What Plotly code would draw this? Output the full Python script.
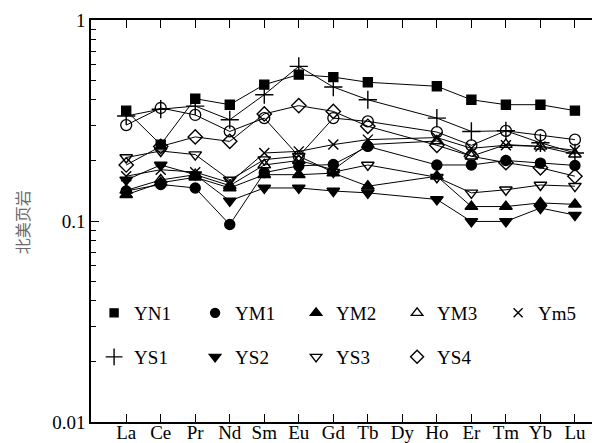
import plotly.graph_objects as go

elements = ["La", "Ce", "Pr", "Nd", "Sm", "Eu", "Gd", "Tb", "Dy", "Ho", "Er", "Tm", "Yb", "Lu"]

YN1 = [0.354, 0.240, 0.406, 0.379, 0.477, 0.535, 0.520, 0.490, None, 0.468, 0.401, 0.379, 0.379, 0.354]
YM1 = [0.141, 0.152, 0.146, 0.096, 0.174, 0.188, 0.191, 0.235, None, 0.190, 0.190, 0.200, 0.194, 0.189]
YM2 = [0.135, 0.155, 0.165, 0.146, 0.170, 0.170, 0.173, 0.149, None, 0.167, 0.118, 0.118, 0.123, 0.121]
YM3 = [0.142, 0.160, 0.170, 0.150, 0.190, 0.200, 0.180, 0.240, None, 0.250, 0.210, 0.240, 0.235, 0.215]
Ym5 = [0.167, 0.180, 0.175, 0.155, 0.218, 0.222, 0.240, 0.254, None, 0.260, 0.230, 0.238, 0.235, 0.225]
YS1 = [0.333, 0.360, 0.373, 0.319, 0.425, 0.588, 0.464, 0.401, None, 0.325, 0.279, 0.281, 0.245, 0.218]
YS2 = [0.160, 0.190, 0.170, 0.126, 0.146, 0.146, 0.141, 0.138, None, 0.128, 0.0995, 0.0995, 0.116, 0.107]
YS3 = [0.207, 0.223, 0.214, 0.160, 0.202, 0.210, 0.175, 0.190, None, 0.165, 0.138, 0.143, 0.151, 0.149]
YS4 = [0.190, 0.235, 0.262, 0.249, 0.341, 0.375, 0.351, 0.296, None, 0.238, 0.210, 0.195, 0.184, 0.167]
OPEN = [0.300, 0.365, 0.337, 0.279, 0.325, 0.210, 0.325, 0.313, None, 0.277, 0.238, 0.281, 0.267, 0.254]

series = [
    ("YN1", YN1, "square", 9, "legend"),
    ("YM1", YM1, "circle", 10, "legend"),
    ("YM2", YM2, "triangle-up", 11, "legend"),
    ("YM3", YM3, "triangle-up-open", 11, "legend"),
    ("Ym5", Ym5, "x-thin-open", 10, "legend"),
    ("YS1", YS1, "cross-thin-open", 13, "legend2"),
    ("YS2", YS2, "triangle-down", 11, "legend2"),
    ("YS3", YS3, "triangle-down-open", 11, "legend2"),
    ("YS4", YS4, "diamond-open", 11, "legend2"),
]

FONT = "Liberation Serif, Times New Roman, serif"
fig = go.Figure()

# unnamed open-circle series (not in legend)
fig.add_trace(go.Scatter(
    x=elements, y=OPEN, mode="lines+markers", connectgaps=True, showlegend=False,
    line=dict(color="black", width=1),
    marker=dict(symbol="circle-open", size=11, color="black", line=dict(color="black", width=1.3)),
))

for name, vals, sym, size, _ in series:
    fig.add_trace(go.Scatter(
        x=elements, y=vals, mode="lines+markers", connectgaps=True, showlegend=False,
        name=name,
        line=dict(color="black", width=1),
        marker=dict(symbol=sym, size=size, color="black", line=dict(color="black", width=1.4)),
    ))

# legend-only entries (markers only)
for name, vals, sym, size, lg in series:
    fig.add_trace(go.Scatter(
        x=[None], y=[None], mode="markers", name=name, legend=lg, showlegend=True,
        marker=dict(symbol=sym, size=(size - 1) if sym != "square" else 8, color="black",
                    line=dict(color="black", width=1.4)),
    ))

legend_common = dict(
    orientation="h", xanchor="left", yanchor="middle",
    entrywidth=56, entrywidthmode="pixels", itemwidth=30,
    font=dict(family=FONT, size=19), bgcolor="rgba(0,0,0,0)", traceorder="normal",
)

fig.update_layout(
    width=600, height=443,
    margin=dict(l=83, r=0, t=12, b=29),
    paper_bgcolor="white", plot_bgcolor="white",
    font=dict(family=FONT, size=18, color="black"),
    xaxis=dict(
        type="category", categoryorder="array", categoryarray=elements,
        range=[-1.02, 13.9],
        showgrid=False, zeroline=False,
        showline=True, linecolor="black", linewidth=1.5, mirror="ticks",
        ticks="inside", ticklen=8, tickcolor="black", tickwidth=1,
        tickfont=dict(family=FONT, size=19), ticklabelstandoff=-8,
    ),
    yaxis=dict(
        type="log", range=[-2, 0],
        tickvals=[0.01, 0.1, 1], ticktext=["0.01", "0.1", "1"],
        showgrid=False, zeroline=False,
        showline=True, linecolor="black", linewidth=1.5, mirror="ticks",
        ticks="inside", ticklen=8, tickcolor="black", tickwidth=1,
        tickfont=dict(family=FONT, size=19),
        minor=dict(ticks="inside", ticklen=5, tickcolor="black", tickwidth=1, dtick="D1", showgrid=False),
    ),
    legend=dict(x=0.006, y=(414 - 305) / 402, **legend_common),
    legend2=dict(x=0.006, y=(414 - 349) / 402, **legend_common),
    annotations=[dict(
        text="北美页岩", xref="paper", yref="paper",
        x=-83 / 517, y=(414 - 214) / 402, xanchor="left", yanchor="middle",
        textangle=-90, showarrow=False,
        font=dict(family="Noto Sans CJK SC", size=16, color="#6a6a6a"),
    )],
)

fig.write_html("out.html")
